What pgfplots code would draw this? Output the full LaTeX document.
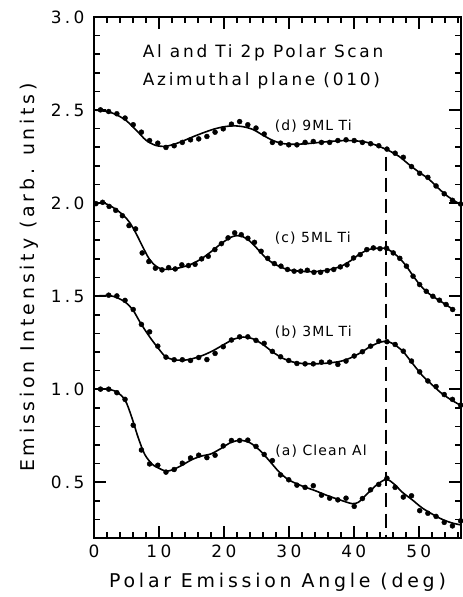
\documentclass[border=0pt]{standalone}
\usepackage{pgfplots}
\pgfplotsset{compat=1.18}
\usepackage{pgfplotstable}
\usepackage{fontspec}
\setmainfont{DejaVu Sans}
\newfontfamily\labfont[LetterSpace=20]{DejaVu Sans}
\newfontfamily\annfont[LetterSpace=16]{DejaVu Sans}
\newfontfamily\curvefont[LetterSpace=8]{DejaVu Sans}

% measured points, curves (a), (b), (d) share the angle grid
\pgfplotstableread{
x     a     b     d
1.00  1.000 nan   2.501
2.26  1.000 1.505 2.492
3.52  0.981 1.501 2.480
4.78  0.945 1.477 2.457
6.04  0.806 1.428 2.421
7.30  0.673 1.348 2.381
8.56  0.598 1.308 2.336
9.82  0.591 1.231 2.322
11.08 0.554 1.172 2.299
12.34 0.568 1.158 2.308
13.60 0.602 1.158 2.326
14.86 0.630 1.154 2.340
16.12 0.645 1.170 2.345
17.38 0.632 1.159 2.358
18.64 0.645 1.192 2.381
19.90 0.695 1.228 2.399
21.16 0.724 1.264 2.424
22.42 0.724 1.281 2.438
23.68 0.726 1.281 2.421
24.94 0.692 1.262 2.403
26.20 0.649 1.246 2.371
27.46 0.616 1.203 2.326
28.72 0.539 1.174 2.322
29.98 0.513 1.154 2.313
31.24 0.484 1.138 2.313
32.50 0.472 1.136 2.326
33.76 0.481 1.136 2.331
35.02 0.430 1.145 2.326
36.28 0.414 1.145 2.326
37.54 0.405 1.133 2.336
38.80 0.414 1.151 2.340
40.06 0.370 1.178 2.336
41.32 0.412 1.201 2.326
42.58 0.459 1.231 2.319
43.84 0.488 1.258 2.308
45.10 0.521 1.255 2.290
46.36 0.472 1.240 2.268
47.62 0.420 1.204 2.246
48.88 0.427 1.151 2.196
50.14 0.347 1.093 2.160
51.40 0.333 1.044 2.138
52.66 0.316 1.014 2.092
53.92 0.284 0.971 2.050
55.18 0.265 0.945 2.015
56.44 0.292 0.914 1.995
}\abd

% curve (c) was measured on a finer grid
\pgfplotstableread{
x     c
0.30  1.997
1.32  2.004
2.33  1.982
3.35  1.961
4.37  1.932
5.39  1.879
6.40  1.861
7.42  1.732
8.44  1.686
9.45  1.650
10.47 1.641
11.49 1.653
12.50 1.646
13.52 1.668
14.54 1.664
15.56 1.671
16.57 1.700
17.59 1.714
18.61 1.750
19.62 1.782
20.64 1.813
21.66 1.840
22.67 1.830
23.69 1.811
24.71 1.789
25.73 1.741
26.74 1.703
27.76 1.675
28.78 1.661
29.79 1.643
30.81 1.634
31.83 1.634
32.84 1.639
33.86 1.628
34.88 1.628
35.90 1.637
36.91 1.643
37.93 1.657
38.95 1.668
39.96 1.705
40.98 1.723
42.00 1.750
43.01 1.759
44.03 1.755
45.05 1.757
46.07 1.732
47.08 1.703
48.10 1.661
49.12 1.607
50.13 1.562
51.15 1.526
52.17 1.499
53.18 1.478
54.20 1.455
55.22 1.428
}\ctab

\begin{document}
\begin{tikzpicture}
\begin{axis}[
  scale only axis, width=367bp, height=521bp,
  xmin=0, xmax=56.5, ymin=0.2, ymax=3.0,
  axis line style={line width=2.4bp},
  tick style={black, line width=1.6bp},
  major tick length=12bp, minor tick length=6bp,
  tick align=inside,
  xtick={0,10,...,50}, minor xtick={2,4,...,56},
  ytick={0.5,1.0,...,3.0}, minor ytick={0.3,0.4,...,2.9},
  /pgf/number format/assume math mode=true,
  tick label style={font=\labfont\fontsize{17}{20}\selectfont},
  xticklabel style={yshift=-3bp},
  yticklabel style={xshift=-6bp,
    /pgf/number format/fixed, /pgf/number format/fixed zerofill,
    /pgf/number format/precision=1},
  xlabel={Polar Emission Angle (deg)},
  ylabel={Emission Intensity (arb. units)},
  label style={font=\labfont\fontsize{19}{22}\selectfont},
  xlabel style={at={(axis description cs:0.5,-0.0845)}, anchor=center},
  ylabel style={at={(axis description cs:-0.177,0.5)}, anchor=center},
  fit/.style={black, line width=1.6bp, smooth},
  pts/.style={only marks, mark=*, mark size=2.5bp, black},
]
% fitted curves
\addplot[fit] coordinates {
 (0,1.0) (2,1.0) (3.5,0.985) (4.8,0.94) (5.8,0.85) (6.8,0.74) (7.8,0.65)
 (9,0.595) (10,0.575) (11,0.56) (12,0.565) (13.5,0.59) (15,0.62) (16.5,0.64)
 (18,0.652) (19.5,0.68) (21,0.712) (22.5,0.725) (24,0.712) (25.5,0.672)
 (27,0.615) (28.5,0.555) (30,0.512) (32,0.48) (34,0.455) (36,0.427)
 (38,0.403) (39.7,0.385) (40.7,0.392) (42,0.435) (43.5,0.485) (45,0.515)
 (46.2,0.49) (47.5,0.445) (49,0.405) (50.5,0.362) (52,0.33) (53.5,0.302)
 (55,0.282) (56.5,0.27)};
\addplot[fit] coordinates {
 (0,1.5) (2.3,1.503) (3.5,1.492) (4.8,1.468) (6,1.425) (7,1.365) (8,1.31)
 (9,1.26) (10,1.215) (11,1.175) (12.3,1.158) (14,1.156) (15.5,1.167)
 (17,1.185) (18.5,1.21) (20,1.24) (21.5,1.268) (23,1.28) (24.5,1.27)
 (26,1.24) (27.5,1.2) (29,1.167) (30.5,1.147) (32,1.138) (34,1.136)
 (36,1.14) (38,1.15) (39.5,1.168) (41,1.195) (42.5,1.228) (44,1.252)
 (45,1.256) (46,1.245) (47.5,1.205) (49,1.14) (50.5,1.075) (52,1.025)
 (53.5,0.978) (55,0.942) (56.5,0.912)};
\addplot[fit] coordinates {
 (0,1.998) (1.5,2.0) (3,1.975) (4.5,1.935) (5.5,1.895) (6.5,1.835)
 (7.5,1.765) (8.5,1.70) (9.5,1.662) (10.5,1.645) (12,1.645) (13.5,1.655)
 (15,1.672) (16.5,1.7) (18,1.738) (19.5,1.78) (21,1.815) (22,1.825)
 (23,1.818) (24,1.795) (25,1.76) (26,1.722) (27,1.69) (28.5,1.66)
 (30,1.641) (32,1.633) (34,1.632) (36,1.64) (38,1.66) (39.5,1.69)
 (41,1.728) (42.5,1.752) (44,1.758) (45,1.755) (46,1.735) (47,1.705)
 (48,1.665) (49,1.615) (50,1.568) (51,1.53) (52,1.502) (53,1.48)
 (54,1.458) (55.2,1.43)};
\addplot[fit] coordinates {
 (0,2.5) (2,2.492) (3.5,2.474) (5,2.442) (6.5,2.392) (8,2.338) (9.5,2.31)
 (11,2.305) (12.5,2.318) (14,2.338) (15.5,2.36) (17,2.38) (18.5,2.398)
 (20,2.41) (21.5,2.415) (23,2.41) (24.5,2.395) (26,2.365) (27.5,2.337)
 (29,2.32) (31,2.316) (33,2.32) (35,2.327) (37,2.333) (39,2.336)
 (41,2.332) (42.5,2.322) (44,2.303) (45.5,2.28) (47,2.25) (48.5,2.207)
 (50,2.167) (51.5,2.13) (53,2.08) (54.5,2.035) (56.5,1.99)};
% measured points
\addplot[pts] table[x=x, y=a] {\abd};
\addplot[pts] table[x=x, y=b] {\abd};
\addplot[pts] table[x=x, y=c] {\ctab};
\addplot[pts] table[x=x, y=d] {\abd};
% 45 deg marker
\addplot[black, line width=1.8bp, dash pattern=on 14bp off 7bp] coordinates {(45,2.25) (45,0.2)};

\node[anchor=base west, inner sep=0, font=\annfont\fontsize{17}{20}\selectfont]
  at (axis cs:7.5,2.784) {Al and Ti 2p Polar Scan};
\node[anchor=base west, inner sep=0, font=\annfont\fontsize{17}{20}\selectfont]
  at (axis cs:7.5,2.630) {Azimuthal plane (010)};
\node[anchor=base west, inner sep=0, font=\curvefont\fontsize{14}{16}\selectfont]
  at (axis cs:27.8,2.390) {(d) 9ML Ti};
\node[anchor=base west, inner sep=0, font=\curvefont\fontsize{14}{16}\selectfont]
  at (axis cs:27.8,1.786) {(c) 5ML Ti};
\node[anchor=base west, inner sep=0, font=\curvefont\fontsize{14}{16}\selectfont]
  at (axis cs:27.8,1.285) {(b) 3ML Ti};
\node[anchor=base west, inner sep=0, font=\curvefont\fontsize{14}{16}\selectfont]
  at (axis cs:27.9,0.641) {(a) Clean Al};
\end{axis}
\pgfresetboundingbox
\path[use as bounding box] ([shift={(-94bp,-59bp)}]current axis.south west) rectangle ++(463bp,597bp);
\end{tikzpicture}
\end{document}
